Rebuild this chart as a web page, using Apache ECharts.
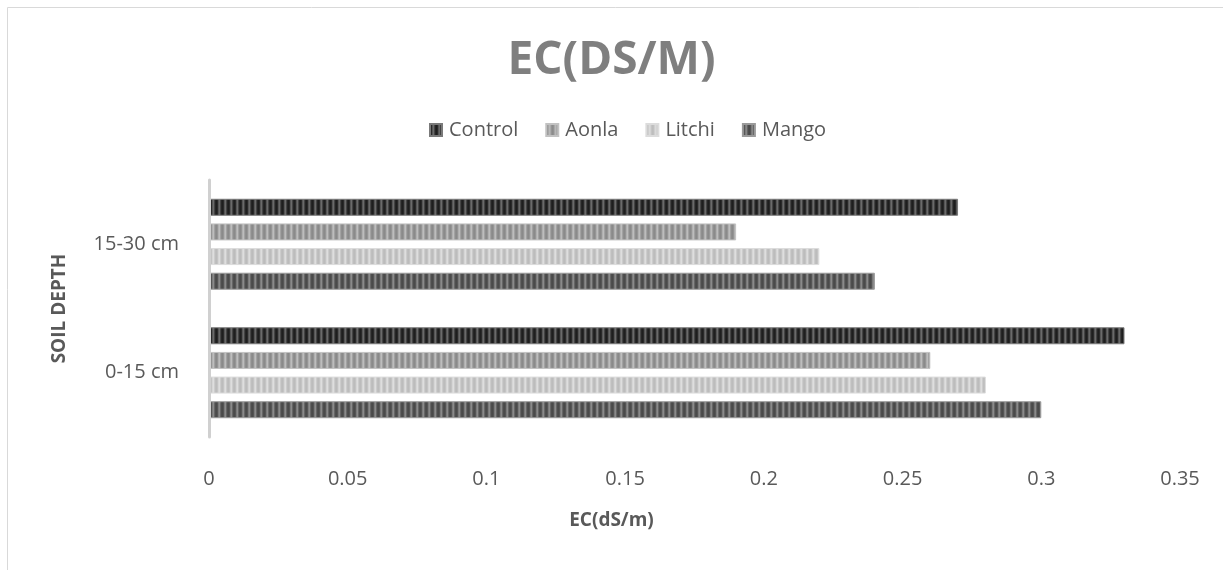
<!DOCTYPE html>
<html><head><meta charset="utf-8">
<script src="https://cdn.jsdelivr.net/npm/echarts@6/dist/echarts.min.js"></script>
<style>html,body{margin:0;padding:0;background:#fff}#c{width:1223px;height:570px}</style>
</head><body><div id="c"></div>
<script>
const categories = ['0-15 cm', '15-30 cm'];
const seriesNames = ['Control', 'Aonla', 'Litchi', 'Mango'];
const control = [0.33, 0.27];
const aonla = [0.26, 0.19];
const litchi = [0.28, 0.22];
const mango = [0.30, 0.24];
const xTicks = [0, 0.05, 0.1, 0.15, 0.2, 0.25, 0.3, 0.35];

function stripes(cols) {
  const c = document.createElement('canvas');
  c.width = cols.length; c.height = 4;
  const g = c.getContext('2d');
  cols.forEach((col, i) => { g.fillStyle = col; g.fillRect(i, 0, 1, 4); });
  return { image: c, repeat: 'repeat' };
}
const fills = [
  stripes(['#1e1e1e', '#2a2a2a', '#555', '#6a6a6a', '#444', '#262626']),
  stripes(['#8a8a8a', '#959595', '#b0b0b0', '#bdbdbd', '#a2a2a2', '#8f8f8f']),
  stripes(['#bcbcbc', '#c4c4c4', '#d6d6d6', '#dedede', '#cccccc', '#bfbfbf']),
  stripes(['#4a4a4a', '#555', '#7a7a7a', '#8a8a8a', '#666', '#4e4e4e'])
];
const borders = ['#7a7a7a', '#c2c2c2', '#dcdcdc', '#9a9a9a'];
const values = [control, aonla, litchi, mango];

const chart = echarts.init(document.getElementById('c'), null, { renderer: 'canvas' });
const series = seriesNames.map((n, i) => ({
  name: n, type: 'bar', data: values[i],
  barWidth: 17, barGap: '45%',
  itemStyle: { color: fills[i], borderColor: borders[i], borderWidth: 1 },
  emphasis: { disabled: true }
}));
chart.setOption({
  animation: false,
  textStyle: { fontFamily: 'Open Sans' },
  title: [{
    text: 'EC(DS/M)', left: 'center', top: 33,
    textStyle: { fontSize: 46, fontWeight: 'bold', color: '#7f7f7f', fontFamily: 'Open Sans' }
  }, {
    text: 'EC(dS/m)', left: 'center', top: 506,
    textStyle: { fontSize: 19, fontWeight: 'bold', color: '#595959', fontFamily: 'Open Sans' }
  }],
  legend: {
    data: seriesNames, top: 115, left: 424,
    icon: 'rect', itemWidth: 12, itemHeight: 12, itemGap: 27,
    textStyle: { fontSize: 20, color: '#595959', fontFamily: 'Open Sans', padding: [0, 0, 0, 2] }
  },
  grid: { left: 209, right: 43, top: 180, bottom: 133, containLabel: false },
  xAxis: {
    type: 'value', min: 0, max: 0.35, interval: 0.05,
    axisLine: { show: false }, axisTick: { show: false }, splitLine: { show: false },
    axisLabel: { fontSize: 20, color: '#595959', margin: 32, formatter: v => String(parseFloat(v.toFixed(2))) }
  },
  yAxis: {
    type: 'category', data: categories, z: 5,
    axisLine: { show: true, lineStyle: { color: '#d0d0d0', width: 3 } },
    axisTick: { show: false },
    axisLabel: { fontSize: 20, color: '#595959', margin: 30 },
    name: 'SOIL DEPTH', nameLocation: 'middle', nameGap: 140, nameRotate: 90,
    nameTextStyle: { fontSize: 19, fontWeight: 'bold', color: '#595959' }
  },
  graphic: [{
    type: 'rect', shape: { x: 7.5, y: 7.5, width: 1300, height: 700 },
    style: { fill: 'none', stroke: '#d9d9d9', lineWidth: 1 }, silent: true
  }],
  series: series
});
</script></body></html>
